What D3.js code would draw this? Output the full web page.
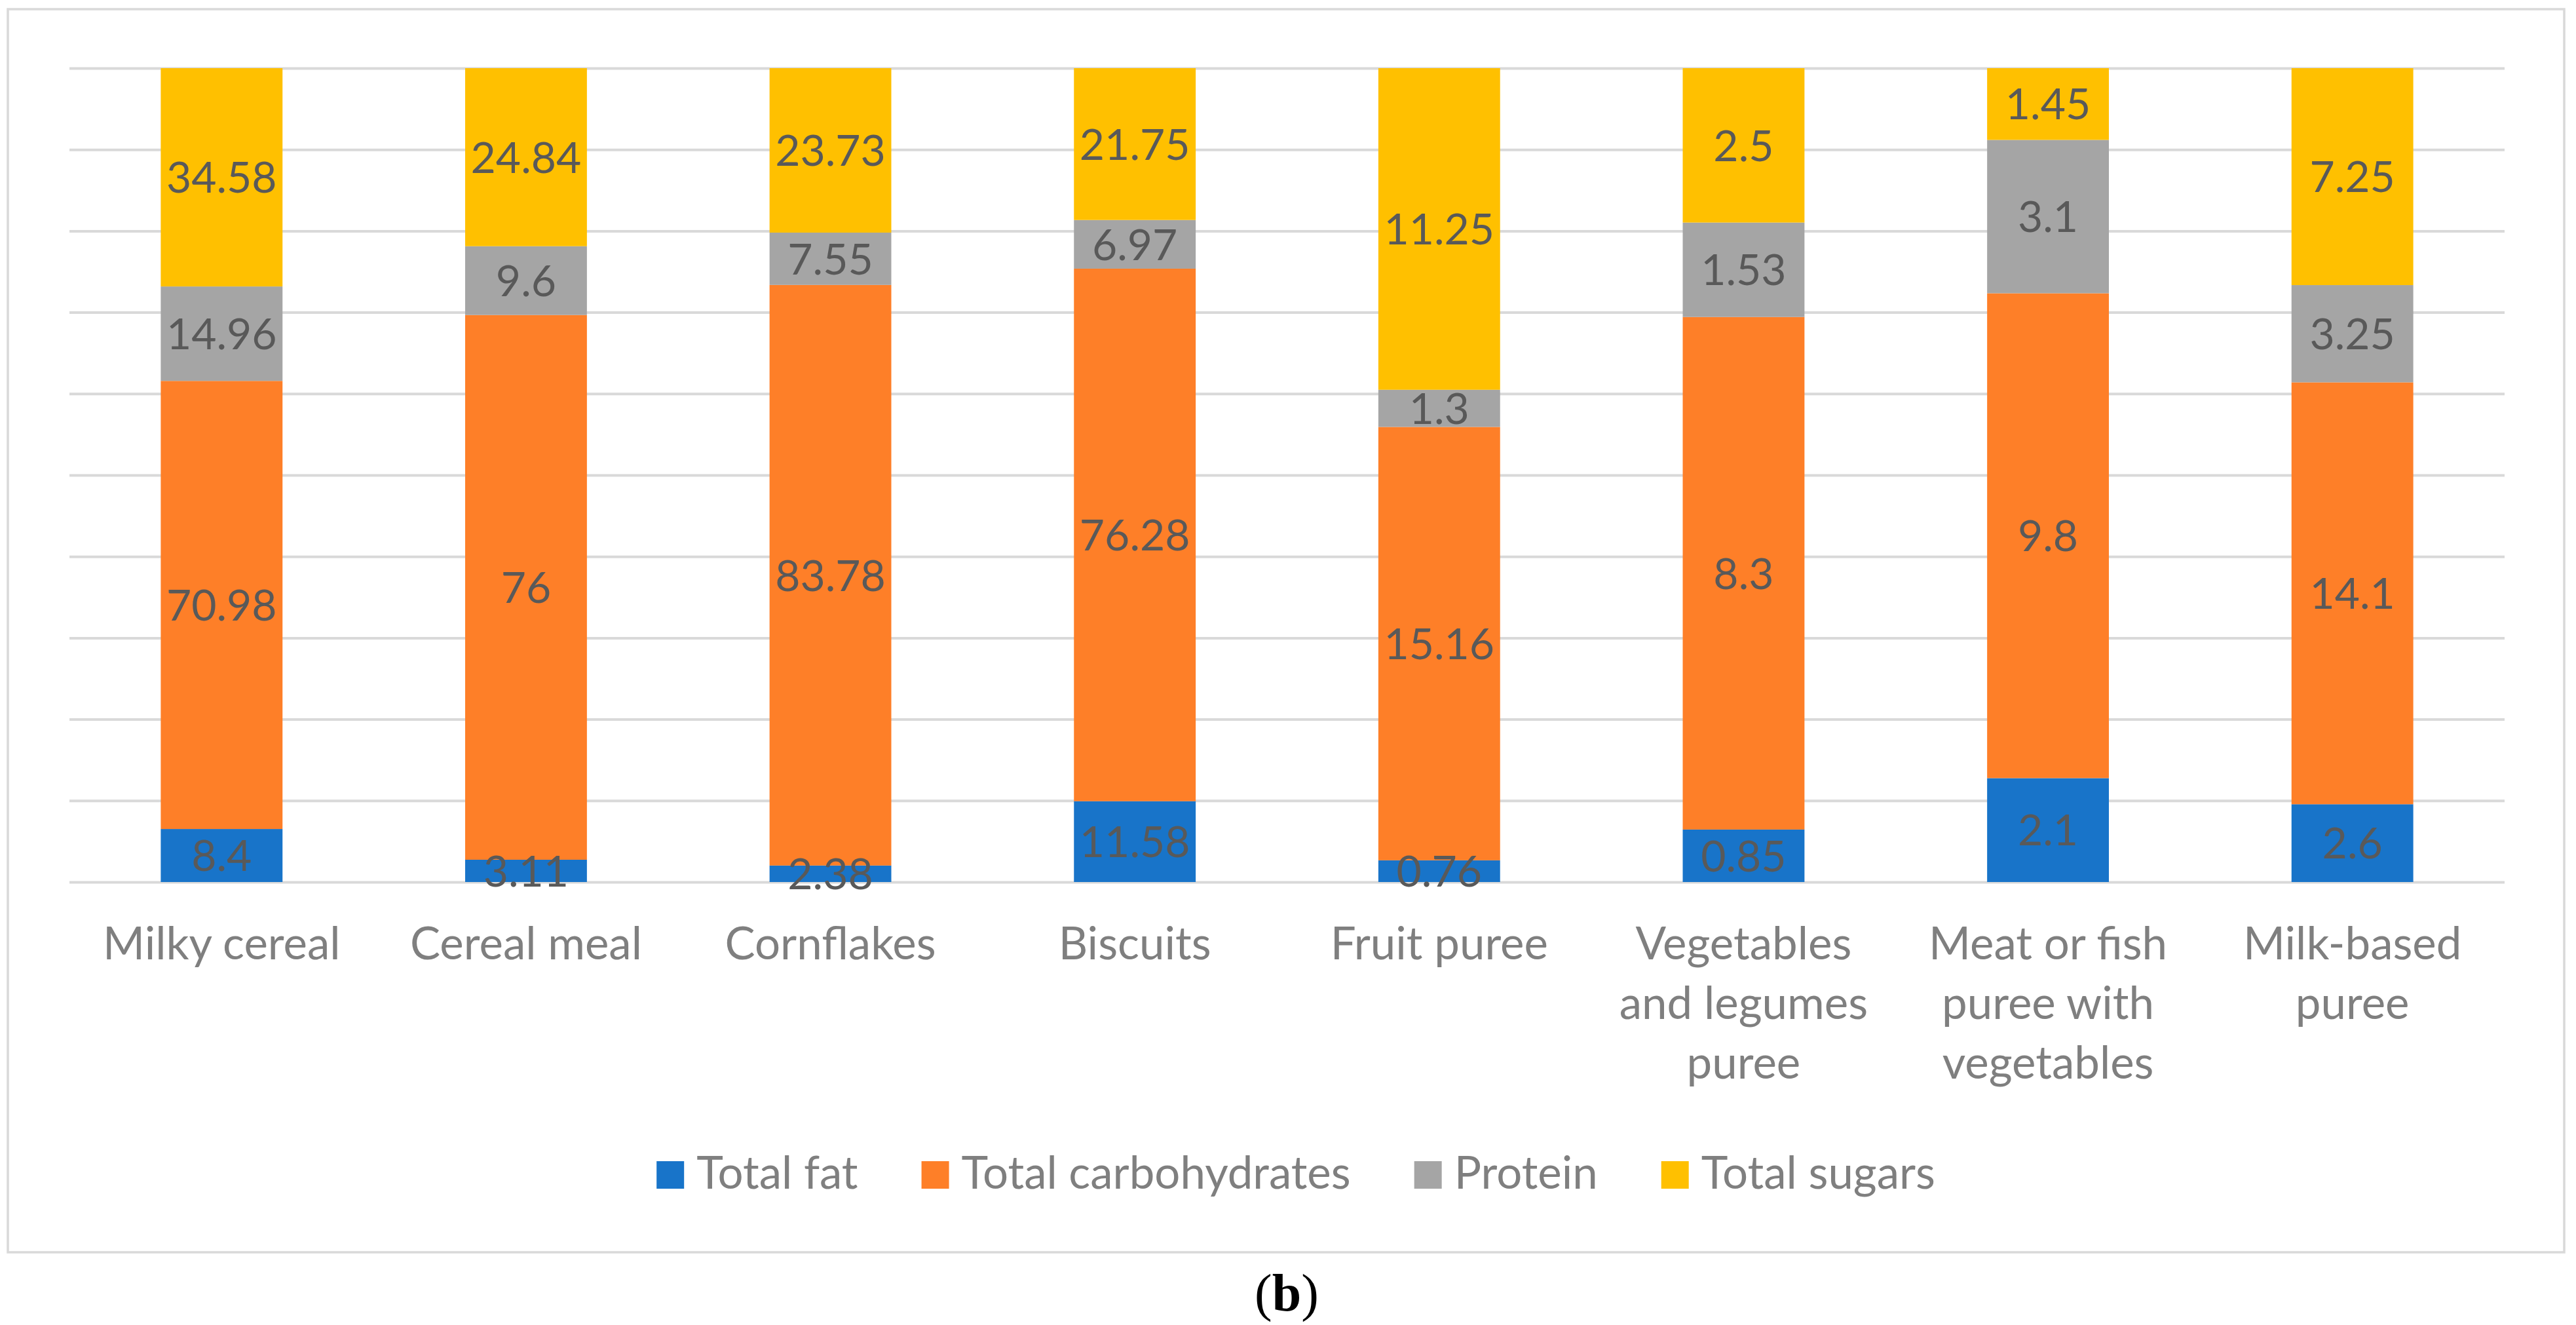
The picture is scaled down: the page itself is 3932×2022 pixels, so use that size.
<!DOCTYPE html>
<html lang="en">
<head>
    <meta charset="UTF-8">
    <title>Nutrient composition (b)</title>
    <script src="https://cdn.jsdelivr.net/npm/d3@7"></script>
    <style>
        body { margin: 0; background: #fff; }
        svg { display: block; }
        .grid line { stroke: #d9d9d9; stroke-width: 4px; }
        .grid .domain { display: none; }
        .cat text { font: 69px Lato, sans-serif; fill: #7f7f7f; }
        .cat .domain, .cat line { display: none; }
        .val { font: 66px Lato, sans-serif; fill: #595959; }
        .legend text { font: 69px Lato, sans-serif; fill: #7f7f7f; }
    </style>
</head>
<body>
    <script>
        const width = 3932;
        const height = 2022;

        const categories = ["Milky cereal", "Cereal meal", "Cornflakes", "Biscuits", "Fruit puree",
            "Vegetables and legumes puree", "Meat or fish puree with vegetables", "Milk-based puree"];
        const seriesNames = ["Total fat", "Total carbohydrates", "Protein", "Total sugars"];
        const totalFat = [8.4, 3.11, 2.38, 11.58, 0.76, 0.85, 2.1, 2.6];
        const totalCarbs = [70.98, 76, 83.78, 76.28, 15.16, 8.3, 9.8, 14.1];
        const protein = [14.96, 9.6, 7.55, 6.97, 1.3, 1.53, 3.1, 3.25];
        const totalSugars = [34.58, 24.84, 23.73, 21.75, 11.25, 2.5, 1.45, 7.25];
        const colors = ["#1874c9", "#fe7f28", "#a5a5a5", "#ffc000"];

        const seriesValues = [totalFat, totalCarbs, protein, totalSugars];
        const rows = categories.map((c, i) => {
            const r = { category: c };
            seriesNames.forEach((s, j) => r[s] = seriesValues[j][i]);
            return r;
        });

        const svg = d3.select("body").append("svg")
            .attr("width", width)
            .attr("height", height);

        // outer chart border
        svg.append("rect")
            .attr("x", 12).attr("y", 14)
            .attr("width", 3902).attr("height", 1897)
            .attr("fill", "#fff")
            .attr("stroke", "#d9d9d9")
            .attr("stroke-width", 3.5);

        const plot = { left: 106, right: 3823, top: 104, bottom: 1346 };

        const x = d3.scaleBand()
            .domain(categories)
            .range([plot.left, plot.right])
            .paddingInner(0.6)
            .paddingOuter(0.3);

        const y = d3.scaleLinear()
            .domain([0, 1])
            .range([plot.bottom, plot.top]);

        // gridlines (0%..100% every 10%)
        svg.append("g")
            .attr("class", "grid")
            .attr("transform", `translate(${plot.left},0)`)
            .call(d3.axisLeft(y).ticks(10).tickSize(-(plot.right - plot.left)).tickFormat(""));

        const stacked = d3.stack()
            .keys(seriesNames)
            .offset(d3.stackOffsetExpand)(rows);

        const layers = svg.append("g")
            .selectAll("g")
            .data(stacked)
            .enter().append("g")
            .attr("fill", (d, i) => colors[i]);

        layers.selectAll("rect")
            .data(d => d)
            .enter().append("rect")
            .attr("x", d => x(d.data.category))
            .attr("y", d => y(d[1]))
            .attr("width", x.bandwidth())
            .attr("height", d => y(d[0]) - y(d[1]));

        // data labels, centred in each segment
        const labels = svg.append("g");
        stacked.forEach(layer => {
            labels.selectAll(null)
                .data(layer)
                .enter().append("text")
                .attr("class", "val")
                .attr("text-anchor", "middle")
                .attr("x", d => x(d.data.category) + x.bandwidth() / 2)
                .attr("y", d => (y(d[0]) + y(d[1])) / 2)
                .attr("dy", "0.36em")
                .text(d => d.data[layer.key]);
        });

        // category axis
        const catAxis = svg.append("g")
            .attr("class", "cat")
            .attr("transform", `translate(0,${plot.bottom})`)
            .call(d3.axisBottom(x).tickSize(0).tickPadding(0));

        catAxis.selectAll("text")
            .attr("y", 0)
            .attr("dy", null)
            .call(wrap, 430);

        function wrap(texts, maxWidth) {
            texts.each(function () {
                const text = d3.select(this);
                const words = text.text().split(" ");
                text.text(null);
                let line = [];
                let lineNo = 0;
                let tspan = text.append("tspan").attr("x", 0).attr("y", 118);
                words.forEach(w => {
                    line.push(w);
                    tspan.text(line.join(" "));
                    if (tspan.node().getComputedTextLength() > maxWidth && line.length > 1) {
                        line.pop();
                        tspan.text(line.join(" "));
                        line = [w];
                        lineNo++;
                        tspan = text.append("tspan").attr("x", 0)
                            .attr("y", 118 + lineNo * 91)
                            .text(w);
                    }
                });
            });
        }

        // legend
        const legend = svg.append("g").attr("class", "legend");
        let lx = 0;
        seriesNames.forEach((s, i) => {
            const item = legend.append("g").attr("transform", `translate(${lx},0)`);
            item.append("rect")
                .attr("x", 0).attr("y", -42)
                .attr("width", 42).attr("height", 42)
                .attr("fill", colors[i]);
            const t = item.append("text")
                .attr("x", 61).attr("y", 0)
                .text(s);
            lx += 61 + t.node().getComputedTextLength() + 97;
        });
        const legendWidth = lx - 97;
        legend.attr("transform", `translate(${1978 - legendWidth / 2},1814)`);

        // panel caption
        const cap = svg.append("text")
            .attr("x", 1964).attr("y", 2000)
            .attr("text-anchor", "middle")
            .style("font", "80px 'Liberation Serif', serif")
            .attr("fill", "#000");
        cap.append("tspan").text("(");
        cap.append("tspan").attr("font-weight", "bold").text("b");
        cap.append("tspan").text(")");
    </script>
</body>
</html>
